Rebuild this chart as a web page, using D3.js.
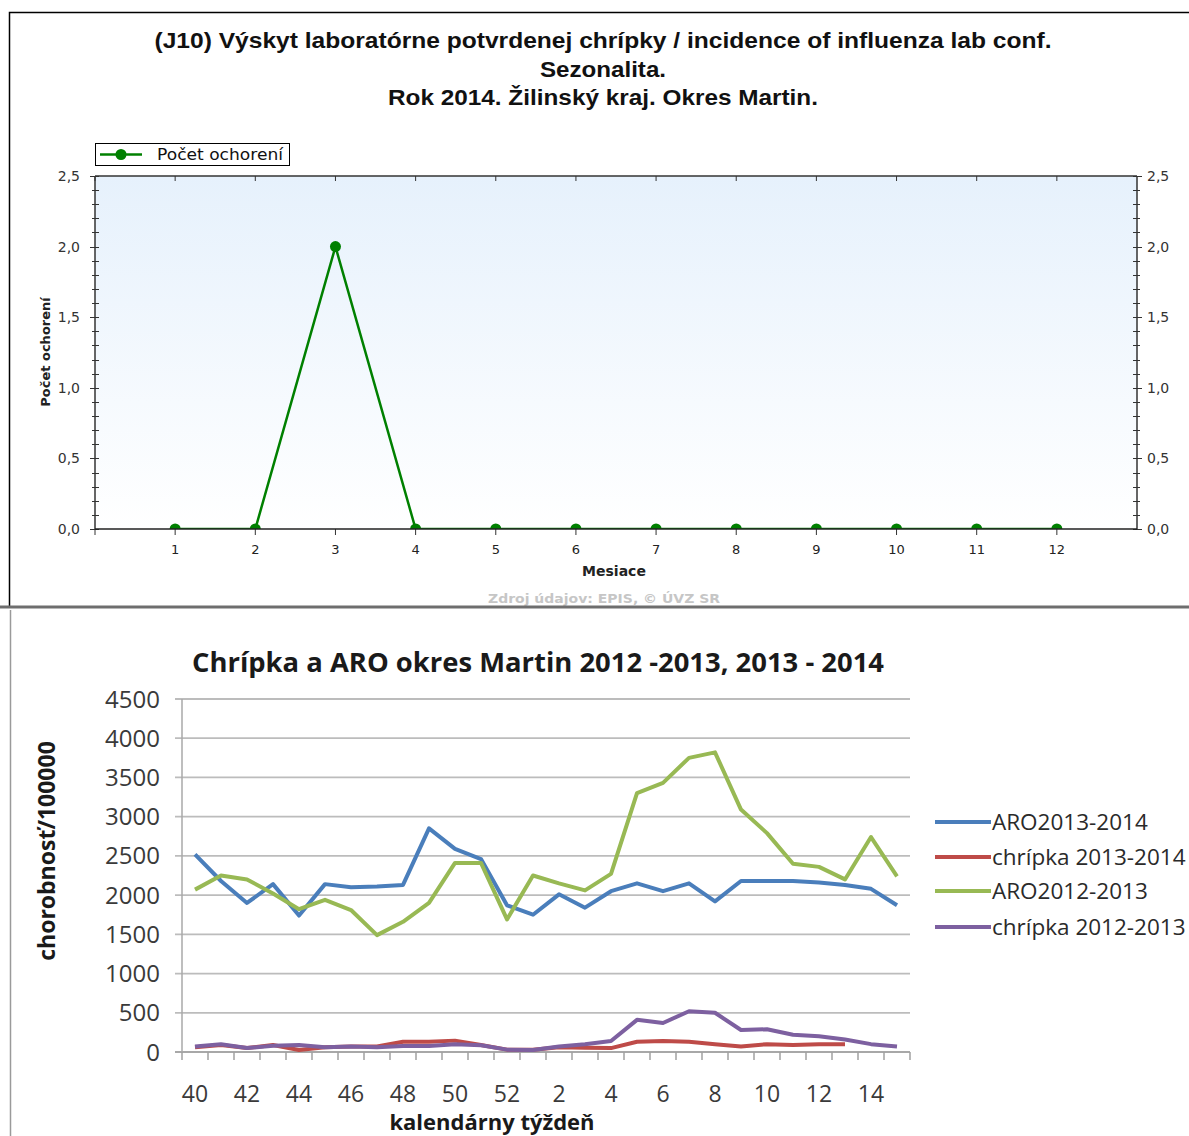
<!DOCTYPE html>
<html><head><meta charset="utf-8">
<script src="https://cdn.jsdelivr.net/npm/d3@7"></script>
<style>html,body{margin:0;padding:0;background:#fff;overflow:hidden}svg{display:block}</style>
</head><body>
<svg id="c" width="1189" height="1136"></svg>
<script>
// ---------- Top chart data ----------
const topTitleLines = ["(J10) Výskyt laboratórne potvrdenej chrípky / incidence of influenza lab conf.", "Sezonalita.", "Rok 2014. Žilinský kraj. Okres Martin."];
const months = [1,2,3,4,5,6,7,8,9,10,11,12];
const monthCounts = [0,0,2,0,0,0,0,0,0,0,0,0];
const topYTicks = [0,0.5,1.0,1.5,2.0,2.5];
const topSeriesName = "Počet ochorení";

// ---------- Bottom chart data ----------
const weeks = [40,41,42,43,44,45,46,47,48,49,50,51,52,1,2,3,4,5,6,7,8,9,10,11,12,13,14,15];
const aro1314 = [2520,2180,1900,2140,1740,2140,2100,2110,2130,2850,2590,2460,1870,1750,2010,1840,2050,2150,2050,2150,1920,2180,2180,2180,2160,2130,2080,1870];
const flu1314 = [60,90,50,90,25,60,70,70,130,130,145,90,30,30,60,55,50,130,140,130,100,70,100,90,100,100,null,null];
const aro1213 = [2070,2250,2200,2020,1820,1940,1810,1490,1660,1900,2410,2410,1690,2250,2150,2060,2270,3300,3430,3750,3820,3090,2790,2400,2360,2200,2740,2240];
const flu1213 = [70,100,50,80,90,60,70,60,75,75,100,85,30,25,70,100,140,410,370,520,500,280,290,220,200,160,100,70];
const bottomYTicks = [0,500,1000,1500,2000,2500,3000,3500,4000,4500];
const seriesNames = ["ARO2013-2014","chrípka 2013-2014","ARO2012-2013","chrípka 2012-2013"];
const seriesColors = ["#4a7ebb","#be4b48","#98b954","#7d60a0"];

const svg = d3.select("#c");
svg.append("rect").attr("width",1189).attr("height",1136).attr("fill","#fff");

// ================= TOP CHART =================
const TF = "'Liberation Sans', Arial, sans-serif";
const DF = "'DejaVu Sans', Verdana, sans-serif";
const gTop = svg.append("g");
gTop.append("path").attr("d","M9.5,606 L9.5,12.5 L1189,12.5").attr("fill","none").attr("stroke","#000").attr("stroke-width",1.5);
svg.append("line").attr("x1",0).attr("x2",1189).attr("y1",607).attr("y2",607).attr("stroke","#6e6e6e").attr("stroke-width",3);

const titleLens = [897,126,430];
gTop.selectAll("text.tt").data(topTitleLines).join("text").attr("class","tt")
  .attr("x",603).attr("y",(d,i)=>48+i*28.5).attr("text-anchor","middle")
  .attr("textLength",(d,i)=>titleLens[i]).attr("lengthAdjust","spacingAndGlyphs")
  .attr("font-family",TF).attr("font-size",22).attr("font-weight","bold").attr("fill","#111").text(d=>d);

const xT = d3.scaleLinear().domain([0,13]).range([95,1137]);
const yT = d3.scaleLinear().domain([0,2.5]).range([529,176]);

const defs = svg.append("defs");
const grad = defs.append("linearGradient").attr("id","bgT").attr("x1",0).attr("x2",0).attr("y1",0).attr("y2",1);
grad.append("stop").attr("offset","0%").attr("stop-color","#e6f1fc");
grad.append("stop").attr("offset","100%").attr("stop-color","#ffffff");
defs.append("clipPath").attr("id","clipT").append("rect")
  .attr("x",xT(0)).attr("y",yT(2.5)-8).attr("width",xT(13)-xT(0)).attr("height",yT(0)-yT(2.5)+8);

gTop.append("rect").attr("x",xT(0)).attr("y",yT(2.5)).attr("width",xT(13)-xT(0)).attr("height",yT(0)-yT(2.5)).attr("fill","url(#bgT)");

const minorTicks = d3.range(0,2.5001,0.1);
const isMajor = d=>Math.abs(d*2-Math.round(d*2))<1e-6;
const axL = gTop.append("g").attr("stroke","#333");
axL.append("line").attr("x1",xT(0)).attr("x2",xT(0)).attr("y1",yT(0)).attr("y2",yT(2.5)).attr("stroke-width",1.5);
axL.selectAll("line.mn").data(minorTicks).join("line").attr("class","mn")
  .attr("x1",d=>xT(0)-(isMajor(d)?5:3)).attr("x2",xT(0)+4)
  .attr("y1",d=>Math.round(yT(d))+0.5).attr("y2",d=>Math.round(yT(d))+0.5).attr("stroke-width",1);
const axR = gTop.append("g").attr("stroke","#333");
axR.append("line").attr("x1",xT(13)).attr("x2",xT(13)).attr("y1",yT(0)).attr("y2",yT(2.5)).attr("stroke-width",1.5);
axR.selectAll("line.mn").data(minorTicks).join("line").attr("class","mn")
  .attr("x1",xT(13)-4).attr("x2",d=>xT(13)+(isMajor(d)?5:3))
  .attr("y1",d=>Math.round(yT(d))+0.5).attr("y2",d=>Math.round(yT(d))+0.5).attr("stroke-width",1);
gTop.append("line").attr("x1",xT(0)).attr("x2",xT(13)).attr("y1",yT(2.5)).attr("y2",yT(2.5)).attr("stroke","#333").attr("stroke-width",1.5);
gTop.selectAll("line.tk").data([0].concat(months)).join("line").attr("class","tk")
  .attr("x1",d=>xT(d)).attr("x2",d=>xT(d)).attr("y1",yT(2.5)).attr("y2",yT(2.5)+5).attr("stroke","#333");
gTop.selectAll("line.bk").data([0].concat(months)).join("line").attr("class","bk")
  .attr("x1",d=>xT(d)).attr("x2",d=>xT(d)).attr("y1",yT(0)).attr("y2",yT(0)+6).attr("stroke","#333");

const fmt = d=>d3.format(".1f")(d).replace(".",",");
gTop.selectAll("text.yl").data(topYTicks).join("text").attr("class","yl")
  .attr("x",80).attr("y",d=>yT(d)+5).attr("text-anchor","end")
  .attr("font-family",DF).attr("font-size",14).attr("fill","#333").text(fmt);
gTop.selectAll("text.yr").data(topYTicks).join("text").attr("class","yr")
  .attr("x",1147).attr("y",d=>yT(d)+5).attr("text-anchor","start")
  .attr("font-family",DF).attr("font-size",14).attr("fill","#333").text(fmt);
gTop.selectAll("text.xl").data(months).join("text").attr("class","xl")
  .attr("x",d=>xT(d)).attr("y",554).attr("text-anchor","middle")
  .attr("font-family",DF).attr("font-size",13).attr("fill","#222").text(d=>d);
gTop.append("text").attr("x",614).attr("y",576).attr("text-anchor","middle")
  .attr("font-family",DF).attr("font-size",14).attr("font-weight","bold").attr("fill","#222").text("Mesiace");
gTop.append("text").attr("transform","translate(50,352) rotate(-90)").attr("text-anchor","middle")
  .attr("font-family",DF).attr("font-size",13).attr("font-weight","bold").attr("fill","#222").text(topSeriesName);
gTop.append("text").attr("x",604).attr("y",603).attr("text-anchor","middle")
  .attr("textLength",232).attr("lengthAdjust","spacingAndGlyphs")
  .attr("font-family",DF).attr("font-size",13).attr("font-weight","bold").attr("fill","#c6c6c6").text("Zdroj údajov: EPIS, © ÚVZ SR");

const gS = gTop.append("g").attr("clip-path","url(#clipT)");
const topData = months.map((m,i)=>({m, v:monthCounts[i]}));
gS.append("path").datum(topData).attr("fill","none").attr("stroke","#008000").attr("stroke-width",2.5)
  .attr("d",d3.line().x(d=>xT(d.m)).y(d=>yT(d.v)));
gS.selectAll("circle").data(topData).join("circle").attr("cx",d=>xT(d.m)).attr("cy",d=>yT(d.v)).attr("r",5.5).attr("fill","#008000");
gTop.append("line").attr("x1",xT(0)).attr("x2",xT(13)).attr("y1",yT(0)).attr("y2",yT(0)).attr("stroke","#222").attr("stroke-width",1.5);

const lg = gTop.append("g");
lg.append("rect").attr("x",95.5).attr("y",143.5).attr("width",194).attr("height",22).attr("fill","#fff").attr("stroke","#000");
lg.append("line").attr("x1",100).attr("x2",142).attr("y1",154.5).attr("y2",154.5).attr("stroke","#008000").attr("stroke-width",2.5);
lg.append("circle").attr("cx",121).attr("cy",154.5).attr("r",5.5).attr("fill","#008000");
lg.append("text").attr("x",157).attr("y",160).attr("textLength",126).attr("lengthAdjust","spacingAndGlyphs")
  .attr("font-family",DF).attr("font-size",15).attr("fill","#111").text(topSeriesName);

// ================= BOTTOM CHART =================
const BF = "'Open Sans', 'Noto Sans', sans-serif";
const bot = svg.append("g");
bot.append("line").attr("x1",10.5).attr("x2",10.5).attr("y1",610).attr("y2",1136).attr("stroke","#9a9a9a").attr("stroke-width",1.5);

const xB = d3.scaleBand().domain(d3.range(weeks.length)).range([182,910]);
const cx = i=>xB(i)+xB.bandwidth()/2;
const yB = d3.scaleLinear().domain([0,4500]).range([1052,699]);

bot.append("text").attr("x",538).attr("y",672).attr("text-anchor","middle")
  .attr("textLength",692).attr("lengthAdjust","spacingAndGlyphs")
  .attr("font-family",BF).attr("font-size",26).attr("font-weight","bold").attr("fill","#1a1a1a")
  .text("Chrípka a ARO okres Martin 2012 -2013, 2013 - 2014");

bot.selectAll("line.g").data(bottomYTicks).join("line").attr("class","g")
  .attr("x1",175).attr("x2",910).attr("y1",d=>yB(d)).attr("y2",d=>yB(d))
  .attr("stroke",d=>d===0?"#a8a8a8":"#bcbcbc").attr("stroke-width",1.8);
bot.append("line").attr("x1",182).attr("x2",182).attr("y1",yB(4500)).attr("y2",yB(0)).attr("stroke","#a8a8a8").attr("stroke-width",1.5);
bot.selectAll("line.xt").data(d3.range(weeks.length+1)).join("line").attr("class","xt")
  .attr("x1",d=>182+d*xB.step()).attr("x2",d=>182+d*xB.step()).attr("y1",yB(0)).attr("y2",yB(0)+8)
  .attr("stroke","#a0a0a0").attr("stroke-width",1.5);

bot.selectAll("text.yl").data(bottomYTicks).join("text").attr("class","yl")
  .attr("x",160).attr("y",d=>yB(d)+8.5).attr("text-anchor","end")
  .attr("font-family",BF).attr("font-size",24).attr("fill","#3a3a3a").text(d=>d);
const weekLabelIdx = d3.range(0,weeks.length,2);
bot.selectAll("text.xl").data(weekLabelIdx).join("text").attr("class","xl")
  .attr("x",i=>cx(i)).attr("y",1102).attr("text-anchor","middle")
  .attr("font-family",BF).attr("font-size",23).attr("fill","#3a3a3a").text(i=>weeks[i]);
bot.append("text").attr("x",492).attr("y",1130).attr("text-anchor","middle")
  .attr("font-family",BF).attr("font-size",22).attr("font-weight","bold").attr("fill","#1a1a1a").text("kalendárny týždeň");
bot.append("text").attr("transform","translate(55,851) rotate(-90)").attr("text-anchor","middle")
  .attr("font-family",BF).attr("font-size",23).attr("font-weight","bold").attr("fill","#1a1a1a").text("chorobnosť/100000");

const allSeries = [aro1314, flu1314, aro1213, flu1213];
const lineB = d3.line().defined(d=>d.v!=null).x(d=>cx(d.i)).y(d=>yB(d.v));
allSeries.forEach((s,k)=>{
  bot.append("path").datum(s.map((v,i)=>({i,v}))).attr("fill","none")
    .attr("stroke",seriesColors[k]).attr("stroke-width",4).attr("stroke-linejoin","round")
    .attr("d",lineB);
});

const legY = [822,857,891,927];
const lgB = bot.selectAll("g.lgb").data(seriesNames).join("g").attr("class","lgb");
lgB.append("line").attr("x1",935).attr("x2",991).attr("y1",(d,i)=>legY[i]).attr("y2",(d,i)=>legY[i])
  .attr("stroke",(d,i)=>seriesColors[i]).attr("stroke-width",4);
lgB.append("text").attr("x",992).attr("y",(d,i)=>legY[i]+8)
  .attr("font-family",BF).attr("font-size",22.5).attr("fill","#2a2a2a").text(d=>d);
</script>
</body></html>
